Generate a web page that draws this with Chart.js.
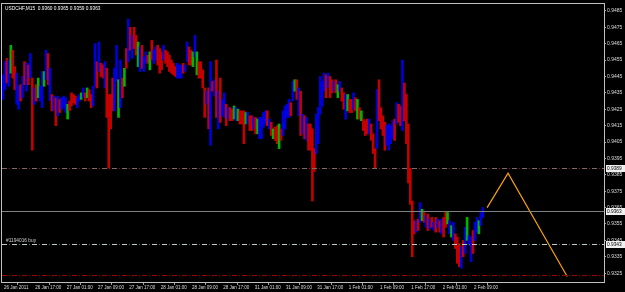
<!DOCTYPE html>
<html>
<head>
<meta charset="utf-8">
<script src="https://cdn.jsdelivr.net/npm/chart.js@4.4.0/dist/chart.umd.min.js"></script>
<style>
  html, body { margin: 0; padding: 0; background: #000; }
  #wrap { width: 625px; height: 292px; }
</style>
</head>
<body>
<div id="wrap"><canvas id="myChart" width="625" height="292"></canvas></div>
<script>
// Chart data (USDCHF M15, one bar per 30 min)
const symbolTitle = 'USDCHF,M15  0.9360 0.9365 0.9359 0.9363';
const timeLabels = ['26 Jan 2011', '26 Jan 17:00', '27 Jan 01:00', '27 Jan 09:00', '27 Jan 17:00',
  '28 Jan 01:00', '28 Jan 09:00', '28 Jan 17:00', '31 Jan 01:00', '31 Jan 09:00', '31 Jan 17:00',
  '1 Feb 01:00', '1 Feb 09:00', '1 Feb 17:00', '2 Feb 01:00', '2 Feb 09:00'];
const barsPerLabel = 16;
const priceTicks = [0.9485, 0.9475, 0.9465, 0.9455, 0.9445, 0.9435, 0.9425, 0.9415, 0.9405,
  0.9395, 0.9385, 0.9375, 0.9365, 0.9355, 0.9345, 0.9335, 0.9325];

let highs = [
  0.9446,0.9454,0.9456,0.9455,0.9464,0.9461,0.9451,0.9447,0.9439,0.9440,
  0.9445,0.9454,0.9453,0.9452,0.9459,0.9444,0.9438,0.9440,0.9444,0.9439,
  0.9448,0.9448,0.9461,0.9459,0.9450,0.9434,0.9433,0.9432,0.9433,0.9431,
  0.9432,0.9433,0.9432,0.9428,0.9430,0.9435,0.9434,0.9433,0.9432,0.9434,
  0.9435,0.9438,0.9435,0.9438,0.9437,0.9434,0.9439,0.9465,0.9454,0.9466,
  0.9453,0.9452,0.9454,0.9450,0.9434,0.9434,0.9444,0.9450,0.9464,0.9443,
  0.9455,0.9444,0.9450,0.9462,0.9480,0.9475,0.9470,0.9475,0.9470,0.9466,
  0.9463,0.9464,0.9457,0.9460,0.9458,0.9460,0.9467,0.9461,0.9463,0.9464,
  0.9462,0.9460,0.9464,0.9461,0.9460,0.9458,0.9455,0.9453,0.9451,0.9453,
  0.9452,0.9452,0.9453,0.9452,0.9466,0.9463,0.9461,0.9460,0.9470,0.9460,
  0.9454,0.9454,0.9449,0.9438,0.9436,0.9438,0.9454,0.9442,0.9443,0.9455,
  0.9436,0.9444,0.9431,0.9435,0.9428,0.9426,0.9426,0.9425,0.9427,0.9426,
  0.9425,0.9424,0.9424,0.9424,0.9423,0.9423,0.9421,0.9421,0.9420,0.9420,
  0.9419,0.9420,0.9420,0.9423,0.9424,0.9424,0.9419,0.9417,0.9413,0.9414,
  0.9415,0.9416,0.9413,0.9424,0.9427,0.9428,0.9431,0.9429,0.9442,0.9443,
  0.9443,0.9438,0.9436,0.9422,0.9421,0.9420,0.9416,0.9416,0.9413,0.9401,
  0.9422,0.9426,0.9445,0.9442,0.9447,0.9446,0.9447,0.9445,0.9443,0.9442,
  0.9443,0.9440,0.9442,0.9438,0.9435,0.9434,0.9434,0.9431,0.9431,0.9435,
  0.9432,0.9431,0.9426,0.9424,0.9419,0.9418,0.9419,0.9419,0.9416,0.9410,
  0.9401,0.9437,0.9443,0.9426,0.9421,0.9417,0.9415,0.9416,0.9415,0.9418,
  0.9419,0.9429,0.9428,0.9427,0.9455,0.9441,0.9434,0.9416,0.9389,0.9369,
  0.9357,0.9357,0.9358,0.9368,0.9364,0.9362,0.9360,0.9361,0.9358,0.9359,
  0.9356,0.9359,0.9358,0.9357,0.9358,0.9359,0.9362,0.9362,0.9357,0.9354,
  0.9356,0.9349,0.9347,0.9343,0.9341,0.9345,0.9353,0.9359,0.9348,0.9347,
  0.9351,0.9356,0.9359,0.9357,0.9362,0.9365
];
let lows = [
  0.9431,0.9437,0.9441,0.9439,0.9447,0.9444,0.9437,0.9428,0.9425,0.9430,
  0.9432,0.9440,0.9436,0.9440,0.9444,0.9400,0.9428,0.9430,0.9432,0.9430,
  0.9426,0.9439,0.9443,0.9440,0.9430,0.9424,0.9424,0.9415,0.9421,0.9423,
  0.9425,0.9426,0.9423,0.9419,0.9424,0.9427,0.9429,0.9428,0.9426,0.9430,
  0.9431,0.9432,0.9430,0.9432,0.9430,0.9426,0.9427,0.9439,0.9438,0.9448,
  0.9445,0.9444,0.9438,0.9420,0.9389,0.9413,0.9424,0.9424,0.9442,0.9420,
  0.9426,0.9432,0.9439,0.9450,0.9454,0.9461,0.9456,0.9462,0.9458,0.9451,
  0.9448,0.9450,0.9448,0.9453,0.9453,0.9449,0.9455,0.9453,0.9455,0.9452,
  0.9447,0.9449,0.9455,0.9453,0.9451,0.9448,0.9447,0.9446,0.9445,0.9444,
  0.9444,0.9444,0.9447,0.9448,0.9454,0.9452,0.9452,0.9451,0.9457,0.9446,
  0.9444,0.9444,0.9438,0.9420,0.9428,0.9413,0.9403,0.9436,0.9433,0.9420,
  0.9413,0.9417,0.9421,0.9420,0.9415,0.9419,0.9418,0.9418,0.9419,0.9418,
  0.9418,0.9416,0.9416,0.9404,0.9416,0.9416,0.9412,0.9412,0.9413,0.9410,
  0.9410,0.9407,0.9407,0.9414,0.9416,0.9415,0.9413,0.9409,0.9407,0.9406,
  0.9404,0.9401,0.9406,0.9409,0.9413,0.9420,0.9420,0.9421,0.9430,0.9436,
  0.9431,0.9421,0.9409,0.9410,0.9407,0.9406,0.9400,0.9400,0.9369,0.9387,
  0.9398,0.9404,0.9422,0.9427,0.9436,0.9432,0.9438,0.9432,0.9435,0.9436,
  0.9435,0.9432,0.9436,0.9430,0.9425,0.9419,0.9424,0.9423,0.9423,0.9425,
  0.9424,0.9419,0.9419,0.9418,0.9412,0.9409,0.9410,0.9410,0.9406,0.9398,
  0.9389,0.9401,0.9418,0.9413,0.9409,0.9400,0.9403,0.9400,0.9404,0.9407,
  0.9406,0.9416,0.9417,0.9415,0.9412,0.9418,0.9404,0.9380,0.9367,0.9335,
  0.9349,0.9350,0.9351,0.9356,0.9357,0.9356,0.9353,0.9351,0.9352,0.9353,
  0.9351,0.9350,0.9353,0.9350,0.9349,0.9347,0.9353,0.9355,0.9349,0.9347,
  0.9345,0.9340,0.9331,0.9329,0.9328,0.9335,0.9337,0.9345,0.9342,0.9332,
  0.9337,0.9345,0.9350,0.9349,0.9354,0.9359
];
// u = up bar, d = down bar, n = flat-ish bar
let barKinds = ('uudundduud' + 'ududududnu' + 'unudududud' + 'uuundddduu' + 'nudndduudu' +
  'ddudddduun' + 'udndududdn' + 'uduudnduud' + 'dduddddddu' + 'uuduuddnun' +
  'ddddududud' + 'uduududdnu' + 'ndddnuddud' + 'nuuuududnd' + 'dnduuuudun' +
  'dudududddd' + 'uuuuududdu' + 'dnuddunddu' + 'dndndddudd' + 'dudddduuuu' +
  'dudduddddd' + 'dudundudud' + 'udududdnun' + 'udddudunuu' + 'duunuu').split('');

// hand drawn projection (time in bars, price)
const projTimes = [247.7, 258.4, 288.6];
const projPrices = [0.9365, 0.9386, 0.9323];

// horizontal levels: take profit, bid, order, stop loss
const levelPrices = [0.9389, 0.9363, 0.9343, 0.9324];
const levelNames = ['tp', 'bid', 'order', 'sl'];
const orderLabel = '#1194016 buy';

// Styles
const kindColors = { u: '#0000dc', d: '#c40000', n: '#00b400' };
const smallFont = '"Liberation Sans", sans-serif';
const xMaxBars = 307.4;

function drawDashDot(ctx, y, x0, x1, mainColor, dotColor) {
  ctx.beginPath();
  ctx.moveTo(x0, y);
  ctx.lineTo(x1, y);
  ctx.strokeStyle = mainColor;
  ctx.setLineDash([5, 5]);
  ctx.lineDashOffset = 0;
  ctx.stroke();
  ctx.beginPath();
  ctx.moveTo(x0, y);
  ctx.lineTo(x1, y);
  ctx.strokeStyle = dotColor;
  ctx.setLineDash([1, 9]);
  ctx.lineDashOffset = -7;
  ctx.stroke();
  ctx.setLineDash([]);
  ctx.lineDashOffset = 0;
}

// narrow text like the terminal's bitmap font
function narrowText(ctx, text, x, y, size) {
  ctx.save();
  ctx.translate(x, y);
  ctx.scale(0.8, 1);
  ctx.font = size + 'px ' + smallFont;
  ctx.fillText(text, 0, 0);
  ctx.restore();
}

const terminalPlugin = {
  id: 'terminal',
  beforeDraw(chart) {
    let ctx = chart.ctx;
    ctx.save();
    ctx.fillStyle = '#000';
    ctx.fillRect(0, 0, chart.width, chart.height);
    ctx.restore();
  },
  afterDatasetsDraw(chart) {
    let ctx = chart.ctx;
    let ca = chart.chartArea;
    let yScale = chart.scales.y;
    ctx.save();
    ctx.lineWidth = 1;
    for (let i = 0; i < levelPrices.length; i++) {
      let y = Math.round(yScale.getPixelForValue(levelPrices[i])) + 0.5;
      let name = levelNames[i];
      if (name === 'bid') {
        ctx.beginPath();
        ctx.moveTo(ca.left, y);
        ctx.lineTo(ca.right, y);
        ctx.strokeStyle = '#808080';
        ctx.stroke();
      } else if (name === 'tp') {
        drawDashDot(ctx, y, ca.left, ca.right, '#7a6a6a', '#c00000');
      } else if (name === 'order') {
        drawDashDot(ctx, y, ca.left, ca.right, '#c8c8c8', '#00b000');
        ctx.fillStyle = '#d0d0d0';
        ctx.textBaseline = 'bottom';
        narrowText(ctx, orderLabel, ca.left + 4, y - 1, 6);
      } else {
        drawDashDot(ctx, y, ca.left, ca.right, '#a00000', '#a00000');
      }
    }
    ctx.restore();
  },
  afterDraw(chart) {
    let ctx = chart.ctx;
    let ca = chart.chartArea;
    let yScale = chart.scales.y;
    ctx.save();
    // frame
    ctx.strokeStyle = '#c0c0c0';
    ctx.lineWidth = 1;
    ctx.strokeRect(ca.left - 0.5, ca.top - 0.5, ca.right - ca.left + 1, ca.bottom - ca.top + 1);
    // title
    ctx.fillStyle = '#ffffff';
    ctx.textBaseline = 'top';
    narrowText(ctx, symbolTitle, ca.left + 3, ca.top + 1, 6);
    // price boxes on the axis
    ctx.textBaseline = 'middle';
    for (let i = 0; i < levelPrices.length; i++) {
      if (levelNames[i] === 'sl') continue;
      let y = Math.round(yScale.getPixelForValue(levelPrices[i]));
      ctx.fillStyle = '#f0f0f0';
      ctx.fillRect(ca.right + 2, y - 3, 19, 7);
      ctx.fillStyle = '#000';
      narrowText(ctx, levelPrices[i].toFixed(4), ca.right + 3, y + 0.5, 6);
    }
    ctx.restore();
  }
};

let candleData = highs.map((h, i) => ({ x: i + 0.5, y: [lows[i], h] }));
let projData = projTimes.map((t, i) => ({ x: t, y: projPrices[i] }));

let ctx = document.getElementById('myChart').getContext('2d');
let myChart = new Chart(ctx, {
  type: 'bar',
  data: {
    datasets: [{
      type: 'bar',
      data: candleData,
      backgroundColor: barKinds.map(k => kindColors[k]),
      borderWidth: 0,
      barPercentage: 1,
      categoryPercentage: 1,
      order: 2
    },
    {
      type: 'line',
      data: projData,
      borderColor: '#ffa500',
      borderWidth: 1.2,
      pointRadius: 0,
      tension: 0,
      order: 1
    }]
  },
  options: {
    responsive: false,
    animation: false,
    layout: { padding: { left: 2, top: 2, right: 0, bottom: 0 } },
    plugins: { legend: { display: false }, tooltip: { enabled: false } },
    scales: {
      x: {
        type: 'linear',
        min: 0,
        max: xMaxBars,
        offset: false,
        afterFit: s => { s.height = 10; },
        afterBuildTicks: s => { s.ticks = timeLabels.map((t, i) => ({ value: i * barsPerLabel })); },
        grid: { drawOnChartArea: false, color: '#a0a0a0', tickLength: 3 },
        border: { display: true, color: '#c0c0c0' },
        ticks: {
          autoSkip: false,
          maxRotation: 0,
          align: 'start',
          labelOffset: 2,
          padding: 0,
          color: '#dcdcdc',
          font: { family: smallFont, size: 4.5 },
          callback: (v, i) => timeLabels[i]
        }
      },
      y: {
        position: 'right',
        min: 0.93196,
        max: 0.94892,
        afterFit: s => { s.width = 21; },
        afterBuildTicks: s => { s.ticks = priceTicks.map(v => ({ value: v })); },
        grid: { drawOnChartArea: false, color: '#a0a0a0', tickLength: 2 },
        border: { display: true, color: '#c0c0c0' },
        ticks: {
          padding: 1,
          color: '#dcdcdc',
          font: { family: smallFont, size: 5 },
          callback: v => v.toFixed(4)
        }
      }
    }
  },
  plugins: [terminalPlugin]
});
</script>
</body>
</html>
